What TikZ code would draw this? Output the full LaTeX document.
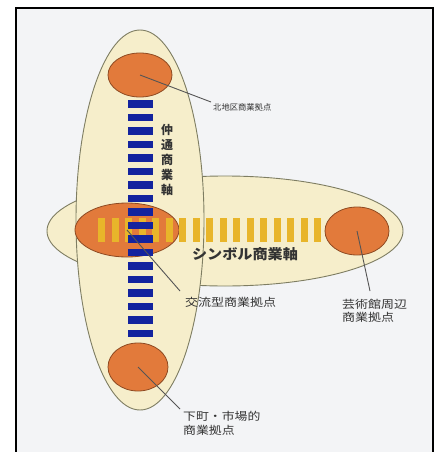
\documentclass[tikz,border=0pt]{standalone}
\usepackage{fontspec}
\setmainfont{Noto Sans CJK JP}
\usetikzlibrary{shapes.geometric}
\definecolor{bgin}{HTML}{F3F4F6}
\definecolor{cream}{HTML}{F6EECB}
\definecolor{zoneline}{HTML}{7E7D62}
\definecolor{hubfill}{HTML}{E27A3B}
\definecolor{hubline}{HTML}{8E4A22}
\definecolor{gold}{HTML}{E8B52A}
\definecolor{axisblue}{HTML}{13239E}
\definecolor{leadc}{HTML}{555555}
\definecolor{txt}{HTML}{333333}
\tikzset{
  zone/.style={ellipse, draw=zoneline, fill=cream, line width=0.9pt, inner sep=0pt},
  hub/.style={ellipse, draw=hubline, fill=hubfill, line width=0.8pt, inner sep=0pt},
  leader/.style={draw=leadc, line width=0.9pt},
  lbl/.style={text=txt, inner sep=0pt, font=\fontsize{11}{13.5}\selectfont},
  axislbl/.style={text=txt, inner sep=0pt},
  stripe/.style={fill=gold},
  dashbar/.style={fill=axisblue}
}
\begin{document}
\begin{tikzpicture}[x=1pt,y=-1pt]
\useasboundingbox (0,0) rectangle (442,452);
\clip (0,0) rectangle (442,452);
\fill[white] (0,0) rectangle (442,452);
\draw[line width=2.2pt, fill=bgin] (16,8) rectangle (433,470);

% zones
\node[zone, minimum width=356pt, minimum height=110pt] (hzone) at (225,231) {};
\node[zone, minimum width=128pt, minimum height=380pt] (vzone) at (140,220) {};

% hubs
\node[hub, minimum width=64pt, minimum height=44pt] (hubN) at (140,75) {};
\node[hub, minimum width=104pt, minimum height=54pt] (hubX) at (127,230) {};
\node[hub, minimum width=64pt, minimum height=48pt] (hubR) at (357,231) {};
\node[hub, minimum width=60pt, minimum height=48pt] (hubB) at (138,367) {};

% symbol axis stripes
\foreach \k in {0,...,16} {
  \fill[stripe] ({98+13.5*\k},218) rectangle ({105+13.5*\k},242);
}
% central axis dashes
\foreach \k in {0,...,17} {
  \fill[dashbar] (128,{100+13.5*\k}) rectangle (153,{107.5+13.5*\k});
}

% leader ends
\coordinate (eN) at (211,102);
\coordinate (eX) at (180,291);
\coordinate (eR) at (370,291);
\coordinate (eB) at (180,409);
\draw[leader] (hubN.center) -- (eN);
\draw[leader] (hubX.center) -- (eX);
\draw[leader] (hubR.center) -- (eR);
\draw[leader] (hubB.center) -- (eB);

% labels
\node[lbl, anchor=west, font=\fontsize{8.3}{10}\selectfont] (lblN) at (213,107) {北地区商業拠点};
\node[axislbl, align=center, font=\fontsize{12}{15}\selectfont\bfseries] (lblV) at (167,160) {仲\\通\\商\\業\\軸};
\node[axislbl, font=\fontsize{14}{16}\selectfont\bfseries] (lblH) at (245,254) {\scalebox{1.08}[1]{シンボル商業軸}};
\node[lbl, anchor=west] (lblX) at (185,302) {\scalebox{1.18}[1]{交流型商業拠点}};
\node[lbl, anchor=west] (lblR) at (342,312.5) {\scalebox{1.18}[1]{\begin{tabular}{@{}l@{}}芸術館周辺\\商業拠点\end{tabular}}};
\node[lbl, anchor=west] (lblB) at (183,425) {\scalebox{1.17}[1]{\begin{tabular}{@{}l@{}}下町・市場的\\商業拠点\end{tabular}}};
\end{tikzpicture}
\end{document}
